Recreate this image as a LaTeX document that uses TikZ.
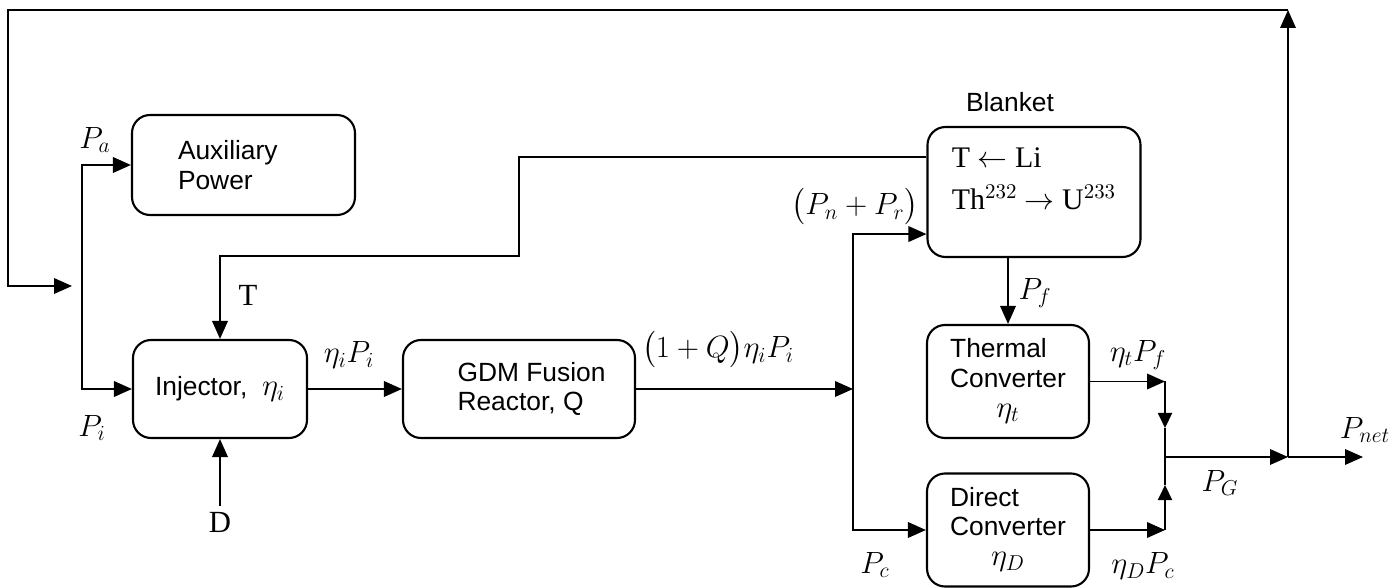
\RequirePackage{fix-cm}
\documentclass[tikz,border=0pt]{standalone}
\usepackage{amsmath}
\usepackage{fontspec}
\setmainfont{Liberation Serif}
\setsansfont{Liberation Sans}
\usepackage{xcolor}
\usepackage{tikz}
\usetikzlibrary{arrows.meta, positioning, calc}

\newcommand{\dgsize}{\fontsize{15}{17}\selectfont}
\newcommand{\mthsize}{\fontsize{17.5}{20}\selectfont}
\newcommand{\convtext}[2]{\begin{tabular}{@{}l@{}}#1\\Converter\\\multicolumn{1}{@{}c@{}}{\mthsize$#2$}\end{tabular}}

\begin{document}
\begin{tikzpicture}[
  font=\mthsize,
  arrow/.style={-{Triangle[length=0.36cm, width=0.31cm]}, line width=1.1pt},
  small_arrow/.style={-{Triangle[length=0.3cm, width=0.28cm]}, line width=1.1pt},
  wire/.style={line width=1.1pt},
  block/.style={draw, rectangle, rounded corners=0.36cm, line width=1.2pt, align=left, font=\dgsize\sffamily},
  conv_block/.style={block, minimum width=3.24cm, minimum height=2.26cm}
]
  \useasboundingbox (0,0) rectangle (27.86,-11.76);

  % BOXES
  \node (aux_box) [block, text width=2.62cm, minimum width=4.46cm, minimum height=2.0cm] at (4.87,-3.30) {Auxiliary\\Power};
  \node (inj_box) [block, minimum width=3.48cm, minimum height=1.96cm] at (4.40,-7.78) {Injector,\ \ {\mthsize$\eta_i$}};
  \node (gdm_box) [block, minimum width=4.64cm, minimum height=1.96cm] at (10.38,-7.78)
    {\hspace*{0.5cm}GDM Fusion\\\hspace*{0.5cm}Reactor, Q};
  \node (blanket_box) [block, font=\fontsize{17}{19}\selectfont\rmfamily, minimum width=4.26cm, minimum height=2.6cm] at (20.68,-3.84)
    {T $\leftarrow$ Li\\[5pt]Th$^{232}$ $\rightarrow$ U$^{233}$\\[-4pt]};
  \node (blanket_lbl) [font=\dgsize\sffamily] at (20.20,-2.04) {Blanket};
  \node (thermal_box) [conv_block] at (20.16,-7.63) {\convtext{Thermal}{\eta_t}};
  \node (direct_box) [conv_block] at (20.16,-10.60) {\convtext{Direct}{\eta_D}};

  % LABELS
  \node (pa_lbl) at (1.90,-2.80) {$P_a$};
  \node (pi_lbl) at (1.84,-8.56) {$P_i$};
  \node (t_lbl) at (4.96,-5.90) {T};
  \node (d_lbl) at (4.40,-10.44) {D};
  \node (inj_out_lbl) at (6.98,-7.10) {$\eta_i P_i$};
  \node (gdm_out_lbl) at (14.36,-7.00) {$\bigl(1+Q\bigr)\eta_i P_i$};
  \node (pnr_lbl) at (17.10,-4.14) {$\bigl(P_n+P_r\bigr)$};
  \node (pf_lbl) at (20.70,-5.86) {$P_f$};
  \node (th_out_lbl) at (22.76,-7.10) {$\eta_t P_f$};
  \node (pc_lbl) at (17.50,-11.30) {$P_c$};
  \node (dc_out_lbl) at (22.86,-11.32) {$\eta_D P_c$};
  \node (pg_lbl) at (24.40,-9.66) {$P_G$};
  \node (pnet_lbl) at (27.30,-8.60) {$P_{net}$};

  % JUNCTIONS
  \coordinate (top_r) at (25.76,-0.20);
  \coordinate (top_l) at (0.16,-0.20);
  \coordinate (fb_end) at (1.44,-5.72);
  \coordinate (split_l) at (1.64,-5.72);
  \coordinate (t_hi) at (10.38,-3.14);
  \coordinate (t_lo) at (10.38,-5.12);
  \coordinate (fork) at (17.06,-7.78);
  \coordinate (nr_in) at ($(blanket_box.south west)+(0,0.48)$);
  \coordinate (gj) at (23.30,-9.14);
  \coordinate (t_mid) at (23.30,-8.56);
  \coordinate (d_mid) at (23.30,-9.70);
  \coordinate (jn) at (25.76,-9.14);
  \coordinate (net_end) at (27.26,-9.14);

  % feedback of net power
  \draw[arrow] (jn) -- (top_r);
  \draw[arrow] (top_r) -- (top_l) |- (fb_end);
  \draw[arrow] (split_l) |- (aux_box.west);
  \draw[arrow] (split_l) |- (inj_box.west);

  % tritium back to injector, deuterium in
  \draw[arrow] (blanket_box.west |- t_hi) -- (t_hi) -- (t_lo) -| (inj_box.north);
  \draw[arrow] (d_lbl.north) -- (inj_box.south);

  % main power chain
  \draw[arrow] (inj_box) -- (gdm_box);
  \draw[arrow] (gdm_box) -- (fork);
  \draw[arrow] (fork) |- (nr_in);
  \draw[arrow] (fork) |- (direct_box.west);
  \draw[arrow] (blanket_box.south -| thermal_box.north) -- (thermal_box.north);

  % converters to gross power
  \draw[arrow] (thermal_box.east) -- (thermal_box.east -| gj);
  \draw[small_arrow] (thermal_box.east -| gj) -- (t_mid);
  \draw[wire] (t_mid) -- (gj);
  \draw[arrow] (direct_box.east) -- (direct_box.east -| gj);
  \draw[small_arrow] (direct_box.east -| gj) -- (d_mid);
  \draw[wire] (d_mid) -- (gj);
  \draw[arrow] (gj) -- (jn);
  \draw[arrow] (jn) -- (net_end);

\end{tikzpicture}
\end{document}
